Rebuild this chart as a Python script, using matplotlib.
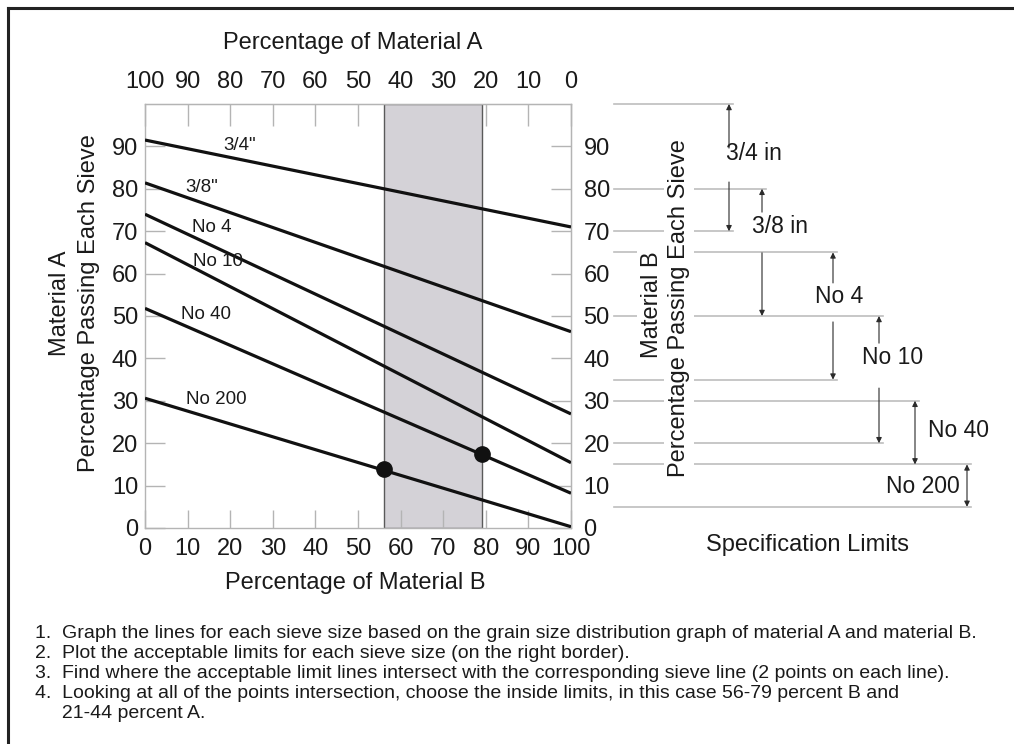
import numpy as np
import matplotlib
matplotlib.use('Agg')
import matplotlib.pyplot as plt
from matplotlib.lines import Line2D

plt.rcParams['font.family'] = ['Liberation Sans', 'DejaVu Sans']

# sieve lines: percent passing for 100% A (0% B) and for 100% B
sieves = ['3/4"', '3/8"', 'No 4', 'No 10', 'No 40', 'No 200']
pass_A = [91.5, 81.4, 74.0, 67.3, 51.8, 30.6]
pass_B = [71.0, 46.3, 26.9, 15.4, 8.2, 0.3]
mix_B = [0, 100]

# acceptable blend range (percent B) and the two limiting points
band = [56, 79]
pts_B = [56, 79]
pts_pass = [13.8, 17.5]

# specification limits
spec_names = ['3/4 in', '3/8 in', 'No 4', 'No 10', 'No 40', 'No 200']
spec_low = [70, 50, 35, 20, 15, 5]
spec_high = [100, 80, 65, 50, 30, 15]

ticks = list(range(0, 101, 10))

notes = [
    '1.  Graph the lines for each sieve size based on the grain size distribution graph of material A and material B.',
    '2.  Plot the acceptable limits for each sieve size (on the right border).',
    '3.  Find where the acceptable limit lines intersect with the corresponding sieve line (2 points on each line).',
    '4.  Looking at all of the points intersection, choose the inside limits, in this case 56-79 percent B and',
    '     21-44 percent A.',
]

W, H = 1014, 744
fig = plt.figure(figsize=(W / 100, H / 100), dpi=100)
fig.patch.set_facecolor('white')

def fx(px):
    return px / W

def fy(py):
    return 1 - py / H

def xd(px):
    # figure pixel -> data x of main axes
    return (px - 145) / 426 * 100

ax = fig.add_axes([fx(145), fy(528), 426 / W, 424 / H])
ax.set_xlim(0, 100)
ax.set_ylim(0, 100)
grey = '#b4b4b4'
for s in ax.spines.values():
    s.set_color(grey)
    s.set_linewidth(1.0)

tick_kw = dict(direction='in', color=grey, width=1.0, labelsize=17, labelcolor='#1a1a1a')
ax.set_xticks(ticks)
ax.set_yticks(ticks[:-1])
ax.tick_params(axis='x', length=13, pad=7, **tick_kw)
ax.tick_params(axis='y', length=14.5, pad=5, **tick_kw)

top = ax.secondary_xaxis('top', functions=(lambda v: 100 - v, lambda v: 100 - v))
top.set_xticks(ticks)
top.tick_params(axis='x', length=16, pad=8, **tick_kw)
top.spines['top'].set_color(grey)

right = ax.secondary_yaxis('right')
right.set_yticks(ticks[:-1])
right.tick_params(axis='y', length=14.5, pad=9, **tick_kw)
right.spines['right'].set_color(grey)

ax.axvspan(band[0], band[1], facecolor='#d4d2d7', edgecolor='#5a5a5a', lw=1.0, zorder=1)

for i, name in enumerate(sieves):
    ax.plot(mix_B, [pass_A[i], pass_B[i]], color='#111111', lw=2.3, zorder=3,
            solid_capstyle='butt')

ax.plot(pts_B, pts_pass, 'o', color='#111111', ms=11, zorder=4)

# sieve labels (x in % B, y in % passing)
lab_x = [22.3, 13.3, 15.6, 17.2, 14.3, 16.7]
lab_y = [90.2, 80.3, 70.9, 62.8, 50.4, 30.4]
for i, name in enumerate(sieves):
    ax.text(lab_x[i], lab_y[i], name, fontsize=13.5, color='#1a1a1a',
            ha='center', va='center', zorder=5)

# specification limit lines and arrows on the right
arrow_px = [729, 762, 833, 879, 915, 967]
limit_vals = sorted(set(spec_low + spec_high))
for v in limit_vals:
    xs = [arrow_px[i] for i in range(len(spec_names)) if v in (spec_low[i], spec_high[i])]
    ax.plot([xd(614), xd(max(xs) + 4)], [v, v], color='#bdbdbd', lw=1.2,
            clip_on=False, zorder=2)

arr = dict(arrowstyle='-|>', color='#2a2a2a', lw=0.8, mutation_scale=8,
           shrinkA=0, shrinkB=0)
dbl = dict(arrowstyle='<|-|>', color='#2a2a2a', lw=0.8, mutation_scale=8,
           shrinkA=0, shrinkB=0)

# (text x px, text y value, ha, gap above, gap below) -- layout only
spec_lay = [
    (726, 88.4, 'left', 89.6, 81.6),
    (752, 71.2, 'left', 74.5, 64.9),
    (815, 54.5, 'left', 57.8, 48.6),
    (862, 40.1, 'left', 43.6, 33.0),
    (928, 23.1, 'left', None, None),
    (960, 9.7, 'right', None, None),
]
for i, name in enumerate(spec_names):
    tx, ty, ha, g1, g2 = spec_lay[i]
    x = xd(arrow_px[i])
    ax.text(xd(tx), ty, name, fontsize=16.5, color='#1a1a1a', ha=ha, va='center',
            clip_on=False)
    if g1 is None:
        ax.annotate('', xy=(x, spec_high[i]), xytext=(x, spec_low[i]),
                    arrowprops=dbl, annotation_clip=False)
    else:
        ax.annotate('', xy=(x, spec_high[i]), xytext=(x, g1),
                    arrowprops=arr, annotation_clip=False)
        ax.annotate('', xy=(x, spec_low[i]), xytext=(x, g2),
                    arrowprops=arr, annotation_clip=False)

# axis titles
tc = '#1a1a1a'
fig.text(fx(353), fy(43), 'Percentage of Material A', fontsize=17, color=tc,
         ha='center', va='center')
fig.text(fx(355), fy(583), 'Percentage of Material B', fontsize=17, color=tc,
         ha='center', va='center')
fig.text(fx(60), fy(303), 'Material A', fontsize=17, color=tc, rotation=90,
         ha='center', va='center')
fig.text(fx(89), fy(303), 'Percentage Passing Each Sieve', fontsize=17, color=tc,
         rotation=90, ha='center', va='center')
wb = dict(facecolor='white', edgecolor='none', pad=3)
fig.text(fx(652), fy(305), 'Material B', fontsize=17, color=tc, rotation=90,
         ha='center', va='center', bbox=wb, zorder=6)
fig.text(fx(679), fy(308), 'Percentage Passing Each Sieve', fontsize=17, color=tc,
         rotation=90, ha='center', va='center', bbox=wb, zorder=6)
fig.text(fx(808), fy(545), 'Specification Limits', fontsize=17, color=tc,
         ha='center', va='center')

# notes
for k, line in enumerate(notes):
    fig.text(fx(35), fy(633 + 20 * k), line, fontsize=14, color=tc, ha='left',
             va='center')

# frame (top and left edges)
fig.add_artist(Line2D([fx(8), 1], [fy(8), fy(8)], color='#222222', lw=2.2))
fig.add_artist(Line2D([fx(8), fx(8)], [fy(8), 0], color='#222222', lw=2.2))

fig.savefig('out.png', dpi=100)
